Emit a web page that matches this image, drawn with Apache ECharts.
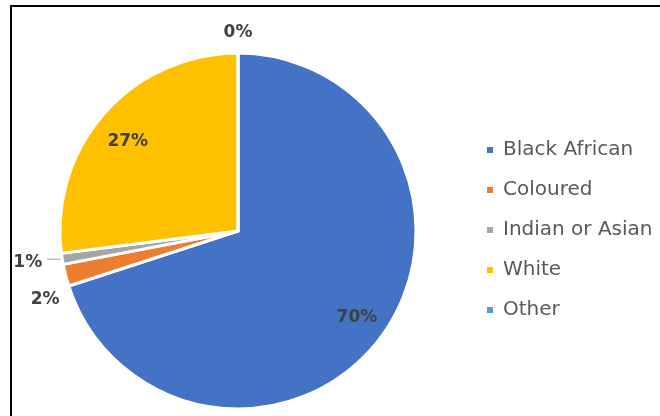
<!DOCTYPE html>
<html>
<head>
<meta charset="utf-8">
<script src="https://cdn.jsdelivr.net/npm/echarts@6/dist/echarts.min.js"></script>
<style>
  html, body { margin: 0; padding: 0; background: #ffffff; overflow: hidden; }
  #chart { width: 660px; height: 416px; }
</style>
</head>
<body>
<div id="chart"></div>
<script>
// Population share by group (percent)
const groups = ['Black African', 'Coloured', 'Indian or Asian', 'White', 'Other'];
const shares = [70, 2, 1, 27, 0];
const colors = ['#4472C4', '#ED7D31', '#A5A5A5', '#FFC000', '#5B9BD5'];

// Which labels sit inside their slice; the rest go outside
const insideLabel = [true, false, false, true, false];

const CENTER = [238, 231];
const RADIUS = 178;
const labelFont = {
  fontFamily: 'DejaVu Sans',
  fontSize: 17,
  fontWeight: 'bold',
  color: '#404040'
};

// Main pie: slices plus the outside labels
const mainData = groups.map((name, i) => {
  const item = { name, value: shares[i], itemStyle: { color: colors[i] } };
  if (insideLabel[i]) {
    item.label = { show: false };
    item.labelLine = { show: false };
  } else if (name === 'Indian or Asian') {
    item.labelLine = { show: true, length: 3, length2: 12, lineStyle: { color: '#BFBFBF', width: 1.5 } };
    item.label = { distanceToLabelLine: 5 };
  } else if (name === 'Other') {
    item.labelLine = { show: false, length: 20, length2: 0 };
    item.label = { distanceToLabelLine: 0 };
  } else {
    item.labelLine = { show: false, length: 0, length2: 0 };
    item.label = { distanceToLabelLine: 6 };
  }
  return item;
});

// Carrier ring for the labels that sit deep inside the big slices
const ringData = groups.map((name, i) => ({
  name,
  value: shares[i],
  itemStyle: { color: 'rgba(0,0,0,0)' },
  label: { show: insideLabel[i] }
}));

const chart = echarts.init(document.getElementById('chart'), null, { renderer: 'canvas' });

chart.setOption({
  animation: false,
  backgroundColor: '#ffffff',
  legend: {
    orient: 'vertical',
    left: 482,
    top: 135,
    itemWidth: 6,
    itemHeight: 6,
    itemGap: 20,
    icon: 'rect',
    itemStyle: { borderWidth: 0 },
    data: groups,
    textStyle: {
      fontFamily: 'DejaVu Sans',
      fontSize: 20,
      lineHeight: 20,
      color: '#595959',
      padding: [0, 0, 0, 5]
    }
  },
  graphic: [{
    type: 'rect',
    shape: { x: 11, y: 6, width: 720, height: 500 },
    style: { fill: 'none', stroke: '#000000', lineWidth: 2 },
    silent: true,
    z: 10
  }],
  series: [
    {
      type: 'pie',
      center: CENTER,
      radius: [0, RADIUS],
      startAngle: 90,
      clockwise: true,
      avoidLabelOverlap: false,
      itemStyle: { borderColor: '#ffffff', borderWidth: 3 },
      label: Object.assign({ position: 'outside', formatter: '{c}%' }, labelFont),
      labelLayout: function (params) {
        const name = groups[params.dataIndex];
        if (name === 'Other') return { align: 'center' };
        if (name === 'Coloured') return { dy: 24 };
        if (name === 'Indian or Asian') return { dy: 3 };
        return {};
      },
      emphasis: { disabled: true },
      data: mainData
    },
    {
      type: 'pie',
      center: CENTER,
      radius: [110, RADIUS],
      startAngle: 90,
      clockwise: true,
      silent: true,
      avoidLabelOverlap: false,
      itemStyle: { borderWidth: 0 },
      label: Object.assign({ position: 'inside', formatter: '{c}%' }, labelFont),
      labelLine: { show: false },
      labelLayout: function (params) {
        return groups[params.dataIndex] === 'White' ? { dy: 8 } : {};
      },
      emphasis: { disabled: true },
      data: ringData
    }
  ]
});
</script>
</body>
</html>
